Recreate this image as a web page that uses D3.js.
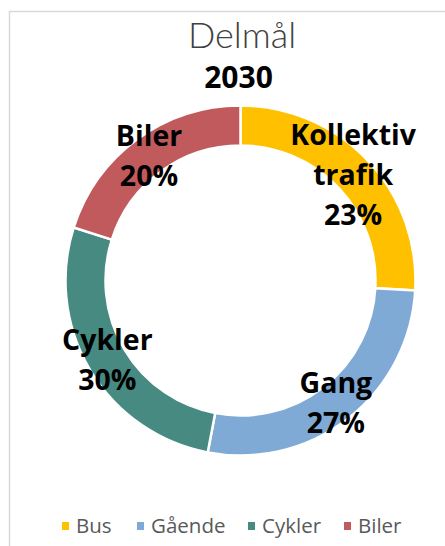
<!DOCTYPE html>
<html><head><meta charset="utf-8">
<script src="https://cdn.jsdelivr.net/npm/d3@7"></script>
<style>
html,body{margin:0;padding:0;background:#fff;}
svg{display:block;}
</style></head>
<body>
<svg id="chart" width="445" height="546"></svg>
<script>
const categories = ["Bus", "Gående", "Cykler", "Biler"];
// slice sizes as drawn in the picture
const values = [25.9, 27.1, 26.9, 20.1];
// label texts as printed on the chart
const labelLines = [["Kollektiv", "trafik"], ["Gang"], ["Cykler"], ["Biler"]];
const labelPct = ["23%", "27%", "30%", "20%"];
const colors = ["#FFC000", "#7FAAD6", "#468A82", "#C05A5C"];
const titleText = "Delmål";
const subtitleText = "2030";

const svg = d3.select("#chart");
svg.append("rect").attr("x", 9.5).attr("y", 11.5).attr("width", 440).attr("height", 550)
  .attr("fill", "#fff").attr("stroke", "#d9d9d9").attr("stroke-width", 1.5);

const cx = 240.5, cy = 280.5, rOut = 175, rIn = 135;
const g = svg.append("g").attr("transform", `translate(${cx},${cy})`);

const pie = d3.pie().sort(null).value(d => d)(values);
const arc = d3.arc().innerRadius(rIn).outerRadius(rOut);
g.selectAll("path.slice").data(pie).join("path")
  .attr("class", "slice")
  .attr("d", arc)
  .attr("fill", (d, i) => colors[i])
  .attr("stroke", "#fff").attr("stroke-width", 2.5);

const labelArc = d3.arc().innerRadius((rIn + rOut) / 2).outerRadius((rIn + rOut) / 2);
const lh = 40, cap = 21;
pie.forEach((d, i) => {
  const [x, yc] = labelArc.centroid(d);
  const lines = labelLines[i].concat([labelPct[i]]);
  const n = lines.length;
  const b1 = yc - ((n - 1) * lh + cap) / 2 + cap;
  const t = g.append("text").attr("text-anchor", "middle")
    .attr("font-family", "'Open Sans', 'Liberation Sans', sans-serif")
    .attr("font-weight", 700).attr("font-size", 28.5).attr("fill", "#000");
  lines.forEach((s, k) => {
    t.append("tspan").attr("x", x).attr("y", b1 + k * lh).text(s);
  });
});

svg.append("text").attr("x", 242).attr("y", 48).attr("text-anchor", "middle")
  .attr("font-family", "Lato, 'Open Sans', sans-serif").attr("font-weight", 300)
  .attr("font-size", 36).attr("fill", "#404040").text(titleText);
svg.append("text").attr("x", 238.5).attr("y", 88).attr("text-anchor", "middle")
  .attr("font-family", "'Open Sans', 'Liberation Sans', sans-serif").attr("font-weight", 700)
  .attr("font-size", 30).attr("fill", "#000").text(subtitleText);

// legend
const legX = [62, 137, 248, 344];
const lg = svg.append("g");
categories.forEach((c, i) => {
  lg.append("rect").attr("x", legX[i]).attr("y", 522).attr("width", 7).attr("height", 8).attr("fill", colors[i]);
  lg.append("text").attr("x", legX[i] + 14).attr("y", 533)
    .attr("font-family", "'Open Sans', 'Liberation Sans', sans-serif")
    .attr("font-size", 20.5).attr("fill", "#595959").text(c);
});
</script>
</body></html>
